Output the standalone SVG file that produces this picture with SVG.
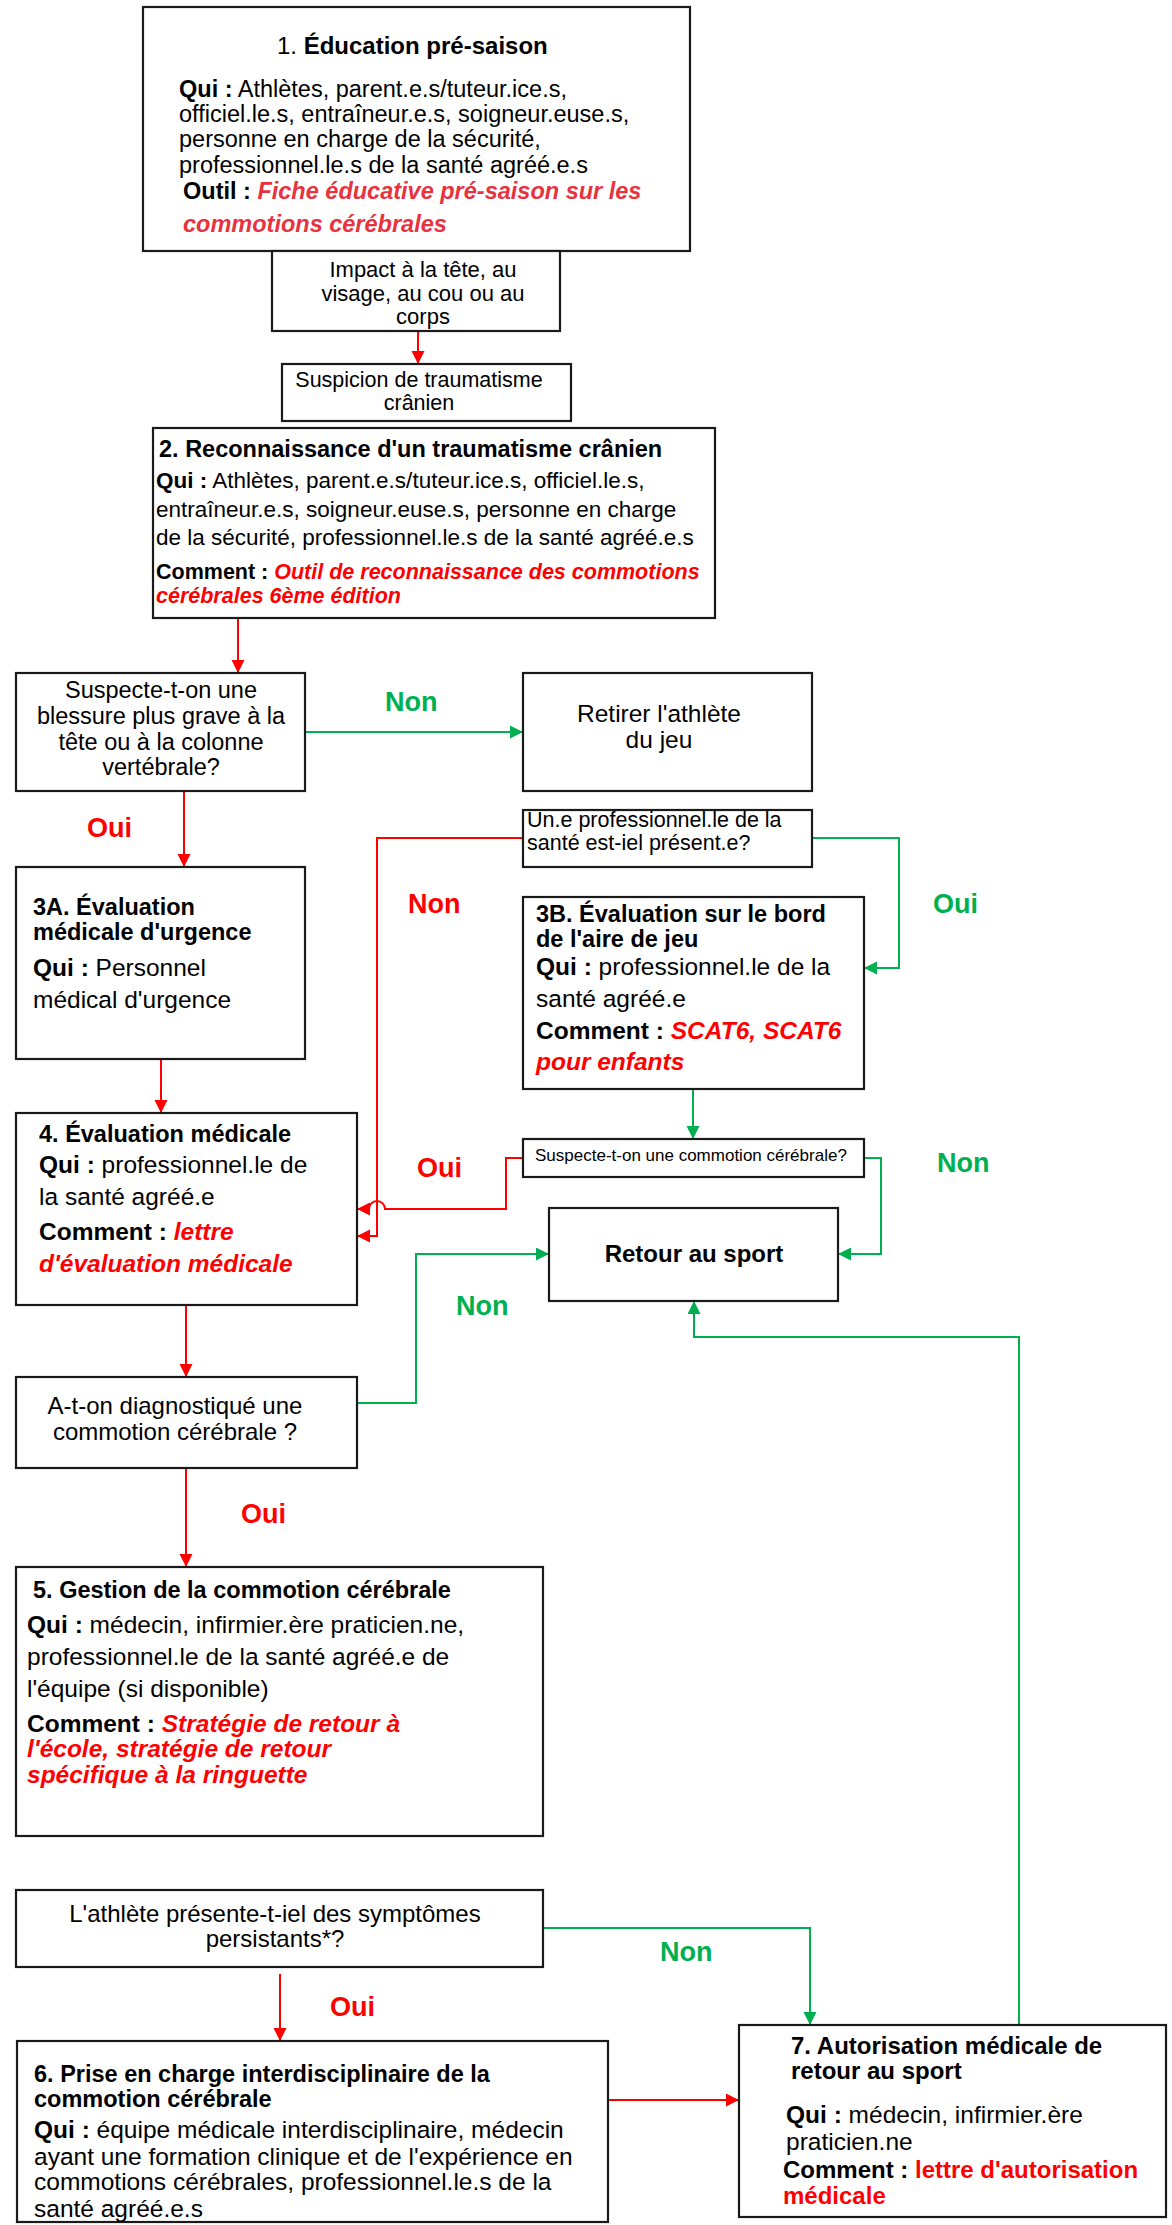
<svg xmlns="http://www.w3.org/2000/svg" width="1172" height="2225" viewBox="0 0 1172 2225">
<defs>
<style>
.box{fill:#fff;stroke:#1a1a1a;stroke-width:2.2}
.t{font-family:"Liberation Sans",Arial,sans-serif;fill:#000}
.b{font-weight:bold}
.ri{fill:#ff0000;font-weight:bold;font-style:italic}
.rp{fill:#e8333f;font-weight:bold;font-style:italic}
.rb{fill:#ff0000;font-weight:bold}
.red{fill:none;stroke:#ff0000;stroke-width:2}
.grn{fill:none;stroke:#00b050;stroke-width:2}
.lr{font-family:"Liberation Sans",Arial,sans-serif;font-weight:bold;font-size:27px;fill:#ff0000}
.lg{font-family:"Liberation Sans",Arial,sans-serif;font-weight:bold;font-size:27px;fill:#00b050}
</style>
<marker id="ar" markerUnits="userSpaceOnUse" markerWidth="14" markerHeight="14" refX="13" refY="6.5" orient="auto"><path d="M0,0 L13,6.5 L0,13 z" fill="#ff0000"/></marker>
<marker id="ag" markerUnits="userSpaceOnUse" markerWidth="14" markerHeight="14" refX="13" refY="6.5" orient="auto"><path d="M0,0 L13,6.5 L0,13 z" fill="#00b050"/></marker>
</defs>
<rect width="1172" height="2225" fill="#fff"/>

<g id="connectors">
<path class="red" d="M418,331 V364" marker-end="url(#ar)"/>
<path class="red" d="M238,618 V673" marker-end="url(#ar)"/>
<path class="red" d="M184,791 V867" marker-end="url(#ar)"/>
<path class="red" d="M161,1059 V1113" marker-end="url(#ar)"/>
<path class="red" d="M523,838 H377 V1236 H357" marker-end="url(#ar)"/>
<path class="red" d="M523,1158 H506 V1209 H385 A8,8 0 0 0 369,1209 H357" marker-end="url(#ar)"/>
<path class="red" d="M186,1305 V1377" marker-end="url(#ar)"/>
<path class="red" d="M186,1468 V1567" marker-end="url(#ar)"/>
<path class="red" d="M280,1974 V2041" marker-end="url(#ar)"/>
<path class="red" d="M608,2100 H739" marker-end="url(#ar)"/>
<path class="grn" d="M305,732 H523" marker-end="url(#ag)"/>
<path class="grn" d="M812,838 H899 V968 H864" marker-end="url(#ag)"/>
<path class="grn" d="M693,1089 V1139" marker-end="url(#ag)"/>
<path class="grn" d="M864,1158 H881 V1254 H838" marker-end="url(#ag)"/>
<path class="grn" d="M357,1403 H416 V1254 H549" marker-end="url(#ag)"/>
<path class="grn" d="M1019,2025 V1337 H694 V1301" marker-end="url(#ag)"/>
<path class="grn" d="M543,1928 H810 V2025" marker-end="url(#ag)"/>
<text class="lg" x="385" y="711">Non</text>
<text class="lr" x="87" y="837">Oui</text>
<text class="lr" x="408" y="913">Non</text>
<text class="lg" x="933" y="913">Oui</text>
<text class="lr" x="417" y="1177">Oui</text>
<text class="lg" x="937" y="1172">Non</text>
<text class="lg" x="456" y="1315">Non</text>
<text class="lr" x="241" y="1523">Oui</text>
<text class="lr" x="330" y="2016">Oui</text>
<text class="lg" x="660" y="1961">Non</text>
</g>

<g id="n1">
<rect class="box" x="143" y="7" width="547" height="244"/>
<text class="t" font-size="24" x="277" y="54">1. <tspan class="b">Éducation pré-saison</tspan></text>
<text class="t" font-size="23.5" x="179" y="97"><tspan class="b">Qui :</tspan> Athlètes, parent.e.s/tuteur.ice.s,</text>
<text class="t" font-size="23.5" x="179" y="122">officiel.le.s, entraîneur.e.s, soigneur.euse.s,</text>
<text class="t" font-size="23.5" x="179" y="147">personne en charge de la sécurité,</text>
<text class="t" font-size="23.5" x="179" y="173">professionnel.le.s de la santé agréé.e.s</text>
<text class="t" font-size="23.5" x="183" y="199"><tspan class="b">Outil :</tspan> <tspan class="rp">Fiche éducative pré-saison sur les</tspan></text>
<text class="t rp" font-size="23.5" x="183" y="232">commotions cérébrales</text>
</g>

<g id="impact">
<rect class="box" x="272" y="251" width="288" height="80"/>
<text class="t" font-size="22" text-anchor="middle"><tspan x="423" y="277">Impact à la tête, au</tspan><tspan x="423" y="301">visage, au cou ou au</tspan><tspan x="423" y="324">corps</tspan></text>
</g>

<g id="suspicion">
<rect class="box" x="282" y="364" width="289" height="57"/>
<text class="t" font-size="21.5" text-anchor="middle"><tspan x="419" y="387">Suspicion de traumatisme</tspan><tspan x="419" y="410">crânien</tspan></text>
</g>

<g id="n2">
<rect class="box" x="153" y="428" width="562" height="190"/>
<text class="t b" font-size="23.5" x="159" y="457">2. Reconnaissance d'un traumatisme crânien</text>
<text class="t" font-size="22.5" x="156" y="488"><tspan class="b">Qui :</tspan> Athlètes, parent.e.s/tuteur.ice.s, officiel.le.s,</text>
<text class="t" font-size="22.5" x="156" y="517">entraîneur.e.s, soigneur.euse.s, personne en charge</text>
<text class="t" font-size="22.5" x="156" y="545">de la sécurité, professionnel.le.s de la santé agréé.e.s</text>
<text class="t" font-size="21.5" x="156" y="579"><tspan class="b">Comment :</tspan> <tspan class="ri">Outil de reconnaissance des commotions</tspan></text>
<text class="t ri" font-size="21.5" x="156" y="603">cérébrales 6ème édition</text>
</g>

<g id="q1">
<rect class="box" x="16" y="673" width="289" height="118"/>
<text class="t" font-size="23.5" text-anchor="middle"><tspan x="161" y="698">Suspecte-t-on une</tspan><tspan x="161" y="724">blessure plus grave à la</tspan><tspan x="161" y="750">tête ou à la colonne</tspan><tspan x="161" y="775">vertébrale?</tspan></text>
</g>

<g id="retirer">
<rect class="box" x="523" y="673" width="289" height="118"/>
<text class="t" font-size="24.5" text-anchor="middle"><tspan x="659" y="722">Retirer l'athlète</tspan><tspan x="659" y="748">du jeu</tspan></text>
</g>

<g id="q2">
<rect class="box" x="523" y="810" width="289" height="57"/>
<text class="t" font-size="21.5"><tspan x="527" y="827">Un.e professionnel.le de la</tspan><tspan x="527" y="850">santé est-iel présent.e?</tspan></text>
</g>

<g id="n3a">
<rect class="box" x="16" y="867" width="289" height="192"/>
<text class="t b" font-size="23.5" x="33" y="915">3A. Évaluation</text>
<text class="t b" font-size="23.5" x="33" y="940">médicale d'urgence</text>
<text class="t" font-size="24.5" x="33" y="976"><tspan class="b">Qui :</tspan> Personnel</text>
<text class="t" font-size="24.5" x="33" y="1008">médical d'urgence</text>
</g>

<g id="n3b">
<rect class="box" x="523" y="897" width="341" height="192"/>
<text class="t b" font-size="23.5" x="536" y="922">3B. Évaluation sur le bord</text>
<text class="t b" font-size="23.5" x="536" y="947">de l'aire de jeu</text>
<text class="t" font-size="24.5" x="536" y="975"><tspan class="b">Qui :</tspan> professionnel.le de la</text>
<text class="t" font-size="24.5" x="536" y="1007">santé agréé.e</text>
<text class="t" font-size="24.5" x="536" y="1039"><tspan class="b">Comment :</tspan> <tspan class="ri">SCAT6, SCAT6</tspan></text>
<text class="t ri" font-size="24.5" x="536" y="1070">pour enfants</text>
</g>

<g id="q3">
<rect class="box" x="523" y="1139" width="341" height="38"/>
<text class="t" font-size="17" x="535" y="1161">Suspecte-t-on une commotion cérébrale?</text>
</g>

<g id="n4">
<rect class="box" x="16" y="1113" width="341" height="192"/>
<text class="t b" font-size="23.5" x="39" y="1142">4. Évaluation médicale</text>
<text class="t" font-size="24.5" x="39" y="1173"><tspan class="b">Qui :</tspan> professionnel.le de</text>
<text class="t" font-size="24.5" x="39" y="1205">la santé agréé.e</text>
<text class="t" font-size="24.5" x="39" y="1240"><tspan class="b">Comment :</tspan> <tspan class="ri">lettre</tspan></text>
<text class="t ri" font-size="24.5" x="39" y="1272">d'évaluation médicale</text>
</g>

<g id="retour">
<rect class="box" x="549" y="1208" width="289" height="93"/>
<text class="t b" font-size="24" text-anchor="middle" x="694" y="1262">Retour au sport</text>
</g>

<g id="q4">
<rect class="box" x="16" y="1377" width="341" height="91"/>
<text class="t" font-size="24" text-anchor="middle"><tspan x="175" y="1414">A-t-on diagnostiqué une</tspan><tspan x="175" y="1440">commotion cérébrale ?</tspan></text>
</g>

<g id="n5">
<rect class="box" x="16" y="1567" width="527" height="269"/>
<text class="t b" font-size="23.5" x="33" y="1598">5. Gestion de la commotion cérébrale</text>
<text class="t" font-size="24.5" x="27" y="1633"><tspan class="b">Qui :</tspan> médecin, infirmier.ère praticien.ne,</text>
<text class="t" font-size="24.5" x="27" y="1665">professionnel.le de la santé agréé.e de</text>
<text class="t" font-size="24.5" x="27" y="1697">l'équipe (si disponible)</text>
<text class="t" font-size="24.5" x="27" y="1732"><tspan class="b">Comment :</tspan> <tspan class="ri">Stratégie de retour à</tspan></text>
<text class="t ri" font-size="24.5" x="27" y="1757">l'école, stratégie de retour</text>
<text class="t ri" font-size="24.5" x="27" y="1783">spécifique à la ringuette</text>
</g>

<g id="q5">
<rect class="box" x="16" y="1890" width="527" height="77"/>
<text class="t" font-size="24" text-anchor="middle"><tspan x="275" y="1922">L'athlète présente-t-iel des symptômes</tspan><tspan x="275" y="1947">persistants*?</tspan></text>
</g>

<g id="n6">
<rect class="box" x="17" y="2041" width="591" height="181"/>
<text class="t b" font-size="23.5" x="34" y="2082">6. Prise en charge interdisciplinaire de la</text>
<text class="t b" font-size="23.5" x="34" y="2107">commotion cérébrale</text>
<text class="t" font-size="24.5" x="34" y="2138"><tspan class="b">Qui :</tspan> équipe médicale interdisciplinaire, médecin</text>
<text class="t" font-size="24.5" x="34" y="2165">ayant une formation clinique et de l'expérience en</text>
<text class="t" font-size="24.5" x="34" y="2190">commotions cérébrales, professionnel.le.s de la</text>
<text class="t" font-size="24.5" x="34" y="2217">santé agréé.e.s</text>
</g>

<g id="n7">
<rect class="box" x="739" y="2025" width="427" height="192"/>
<text class="t b" font-size="24" x="791" y="2054">7. Autorisation médicale de</text>
<text class="t b" font-size="24" x="791" y="2079">retour au sport</text>
<text class="t" font-size="24.5" x="786" y="2123"><tspan class="b">Qui :</tspan> médecin, infirmier.ère</text>
<text class="t" font-size="24.5" x="786" y="2150">praticien.ne</text>
<text class="t b" font-size="24" x="783" y="2178">Comment : <tspan class="rb">lettre d'autorisation</tspan></text>
<text class="t rb" font-size="24" x="783" y="2204">médicale</text>
</g>
</svg>
